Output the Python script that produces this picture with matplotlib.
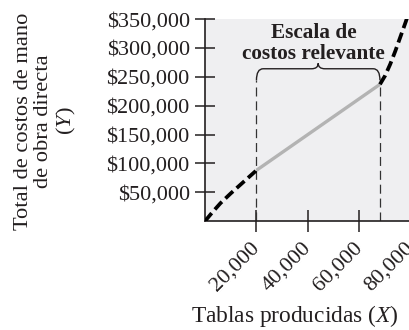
import matplotlib
matplotlib.use("Agg")
import matplotlib.pyplot as plt
from matplotlib.path import Path
from matplotlib.patches import PathPatch
import numpy as np

plt.rcParams['font.family'] = ['Liberation Serif', 'DejaVu Serif']
plt.rcParams['mathtext.fontset'] = 'custom'
plt.rcParams['mathtext.it'] = 'Liberation Serif:italic'
plt.rcParams['mathtext.rm'] = 'Liberation Serif'
plt.rcParams['lines.scale_dashes'] = False

INK = '#231f20'

# Boards produced (X) and total direct labour cost (Y)
low_x = [0, 3000, 6000, 10000, 15000, 20000]
low_y = [0, 16000, 31000, 48000, 68000, 88000]
range_x = [20000, 68000]
range_y = [88000, 237000]
high_x = [68000, 70000, 72000, 74000, 76000, 78000, 80000]
high_y = [237000, 252000, 272000, 295000, 320000, 345000, 372000]

y_ticks = [50000, 100000, 150000, 200000, 250000, 300000, 350000]
y_labels = ['$50,000', '$100,000', '$150,000', '$200,000',
            '$250,000', '$300,000', '$350,000']
x_ticks = [20000, 40000, 60000, 80000]
x_labels = ['20,000', '40,000', '60,000', '80,000']

fig = plt.figure(figsize=(4.1, 3.3), dpi=100)
ax = fig.add_axes([0.5, 0.33, 0.502, 0.612])
ax.set_facecolor('#efeff1')
ax.set_xlim(0, 80000)
ax.set_ylim(0, 350000)

for s in ['top', 'right']:
    ax.spines[s].set_visible(False)
for s in ['left', 'bottom']:
    ax.spines[s].set_linewidth(1.2)
    ax.spines[s].set_color(INK)

# curved portions outside the relevant range
for xs, ys in [(low_x, low_y), (high_x, high_y)]:
    ax.plot(xs, ys, color='black', lw=2.7, dashes=(7.5, 3.5),
            solid_capstyle='butt', dash_capstyle='butt', clip_on=True, zorder=4)

# linear portion within the relevant range
ax.plot(range_x, range_y, color='#b3b3b3', lw=2.4, solid_capstyle='butt', zorder=3)

# boundaries of the relevant range
bracket_low = 244000
for xv in range_x:
    ax.plot([xv, xv], [0, bracket_low], color='#333333', lw=0.9,
            dashes=(6.5, 3.5), zorder=2)

# curly brace over the relevant range
x0, x1 = range_x
xm = (x0 + x1) / 2
y_bar = 264000
y_tip = 273500
r = 2600
verts = [(x0, bracket_low), (x0, y_bar), (x0 + r, y_bar),
         (xm - r, y_bar), (xm, y_bar), (xm, y_tip),
         (xm, y_bar), (xm + r, y_bar),
         (x1 - r, y_bar), (x1, y_bar), (x1, bracket_low)]
codes = [Path.MOVETO, Path.CURVE3, Path.CURVE3,
         Path.LINETO, Path.CURVE3, Path.CURVE3,
         Path.CURVE3, Path.CURVE3,
         Path.LINETO, Path.CURVE3, Path.CURVE3]
ax.add_patch(PathPatch(Path(verts, codes), facecolor='none',
                       edgecolor=INK, lw=1.0, zorder=3))

ax.text(42300, 308000, 'Escala de\ncostos relevante', ha='center', va='center',
        fontsize=15.3, fontweight='bold', color=INK, linespacing=1.05)

ax.set_yticks(y_ticks)
ax.set_yticklabels(y_labels)
ax.set_xticks(x_ticks)
ax.set_xticklabels(x_labels, rotation=45, ha='right', va='center',
                   rotation_mode='anchor')
ax.tick_params(axis='y', direction='inout', length=14, width=1.1,
               colors=INK, labelsize=16, pad=4)
ax.tick_params(axis='x', direction='inout', length=16, width=1.1,
               colors=INK, labelsize=16, pad=9)

fig.text(46 / 410, 1 - 121 / 330,
         'Total de costos de mano\nde obra directa\n($\\mathit{Y}$)',
         rotation=90, ha='center', va='center', multialignment='center',
         fontsize=16.2, color=INK, linespacing=1.1)
fig.text(295 / 410, 1 - 316 / 330, 'Tablas producidas ($\\mathit{X}$)',
         ha='center', va='center', fontsize=16.8, color=INK)

fig.savefig('out.png', dpi=100)
